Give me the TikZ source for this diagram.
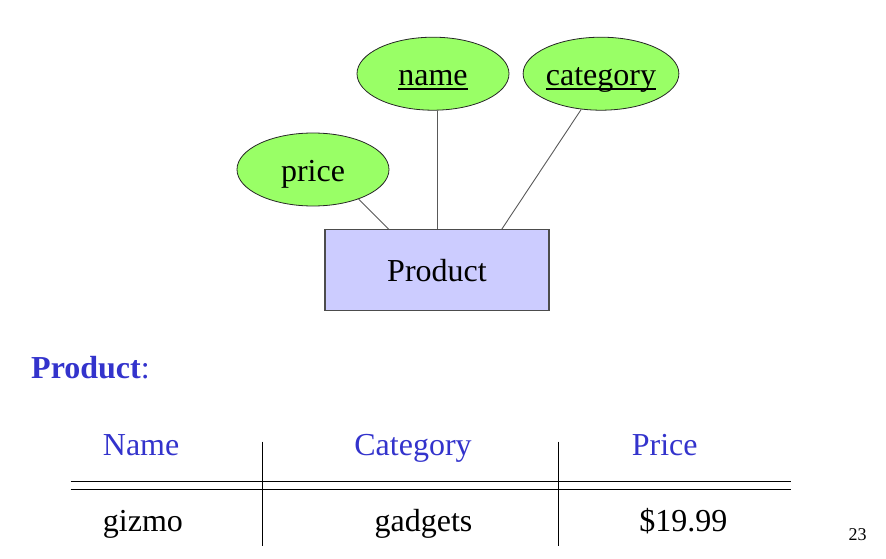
\documentclass[tikz,border=0pt]{standalone}
\usepackage{fontspec}
\setmainfont{Liberation Serif}
\usetikzlibrary{shapes.geometric}
\definecolor{attrgreen}{HTML}{99FF66}
\definecolor{entityblue}{HTML}{CCCCFF}
\definecolor{headblue}{HTML}{3333CC}
\newcommand{\keyattr}[1]{\setbox0\hbox{#1}\rlap{\rule[-4pt]{\wd0}{1.6pt}}\box0}

\begin{document}
\begin{tikzpicture}[x=1pt,y=-1pt,
        font=\fontsize{32}{38}\selectfont,
        attr/.style={ellipse,draw=black!85,line width=0.8pt,fill=attrgreen,minimum width=152pt,minimum height=73pt,
          inner sep=0pt,text height=26pt,text depth=2pt},
        entity/.style={rectangle,draw=black!70,line width=1.2pt,fill=entityblue,minimum width=224pt,
          minimum height=81pt,inner sep=0pt,text height=26pt,text depth=2pt},
        cell/.style={inner sep=0pt},
        link/.style={draw=black!65,line width=0.9pt},
        tabrule/.style={line width=1.2pt}]
        \useasboundingbox (0,0) rectangle (886,559);

        % Coordinates
        \coordinate (T1) at (70.7,481.7);
        \coordinate (T2) at (790.7,481.7);
        \coordinate (T3) at (70.7,489.3);
        \coordinate (T4) at (790.7,489.3);
        \coordinate (C1) at (262.3,441.7);
        \coordinate (C2) at (262.3,545.7);
        \coordinate (C3) at (558.3,441.7);
        \coordinate (C4) at (558.3,545.7);
        \coordinate (PL) at (388.7,229.3);
        \coordinate (CL) at (501.7,229.3);

        % ER part
        \node[entity] (product) at (437,269.7) {Product};
        \node[attr] (name) at (433,73.7) {\keyattr{name}};
        \node[attr] (category) at (601,73.7) {\keyattr{category}};
        \node[attr] (price) at (313,169.5) {price};
        \draw[link] (price.-33) -- (PL);
        \draw[link] (product.north) -- (product.north |- name.south);
        \draw[link] (category.-119) -- (CL);

        % Table
        \node[cell,anchor=base west,text=headblue] (title) at (31,378) {\textbf{Product}:};
        \node[cell,anchor=base west,text=headblue] (hname) at (102.7,455) {Name};
        \node[cell,anchor=base,text=headblue] (hcat) at (413,455) {Category};
        \node[cell,anchor=base,text=headblue] (hprice) at (664.7,455) {Price};
        \node[cell,anchor=base west] (vname) at (102.7,531.7) {gizmo};
        \node[cell,anchor=base] (vcat) at (423.5,531.7) {gadgets};
        \node[cell,anchor=base] (vprice) at (683.3,531.7) {\$19.99};
        \node[cell,anchor=base west,font=\fontsize{18}{22}\selectfont] (page) at (848.3,540.7) {23};
        \draw[tabrule] (T1) -- (T2);
        \draw[tabrule] (T3) -- (T4);
        \draw[tabrule] (C1) -- (C2);
        \draw[tabrule] (C3) -- (C4);
\end{tikzpicture}
\end{document}
